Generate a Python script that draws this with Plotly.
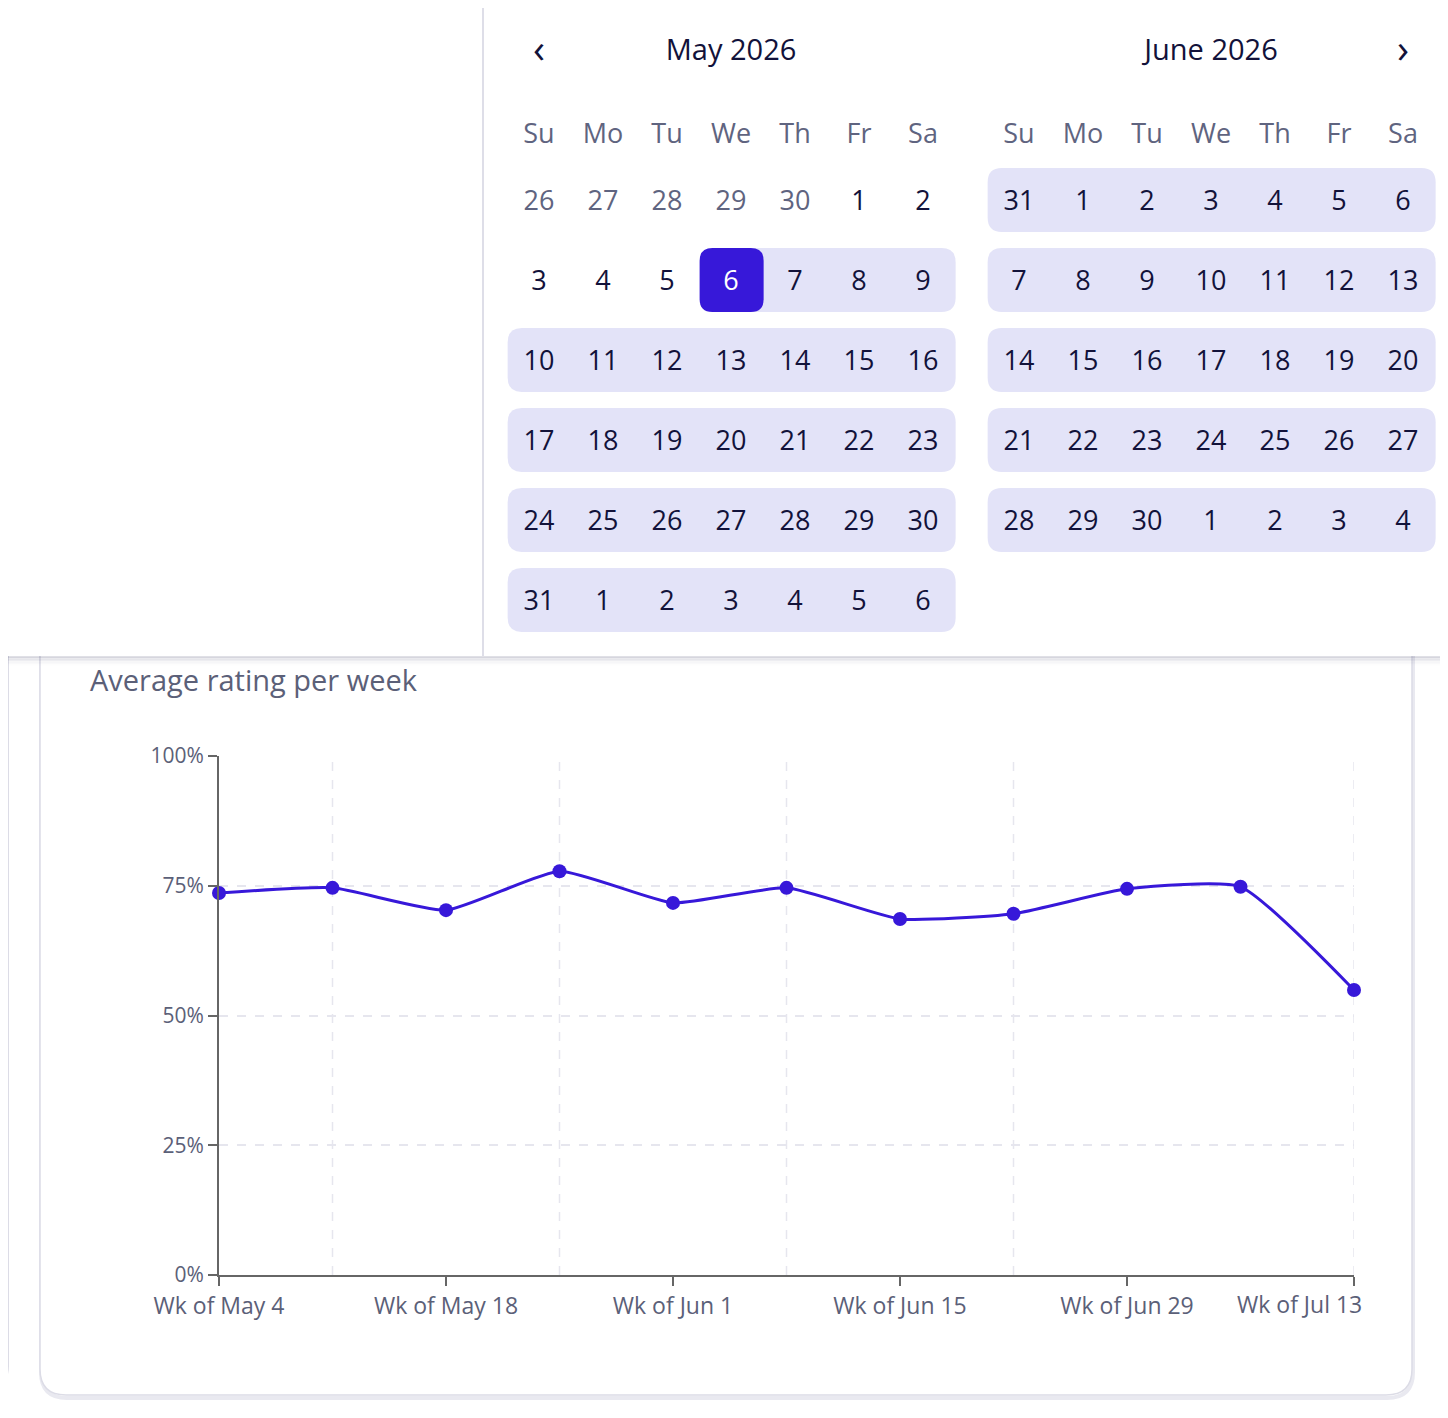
import plotly.graph_objects as go

# the page puts an 8px body margin round the figure, so the figure is
# drawn 16px smaller and every pixel position is taken from the screen
OFF = 8
W, H = 1448 - 2 * OFF, 1418 - 2 * OFF

# weekly average rating (fraction)
weeks = ['2026-05-04', '2026-05-11', '2026-05-18', '2026-05-25', '2026-06-01', '2026-06-08',
         '2026-06-15', '2026-06-22', '2026-06-29', '2026-07-06', '2026-07-13']
ratings = [0.736, 0.746, 0.703, 0.778, 0.717, 0.746, 0.686, 0.696, 0.744, 0.748, 0.549]

tick_dates = ['2026-05-04', '2026-05-18', '2026-06-01', '2026-06-15', '2026-06-29', '2026-07-13']
tick_text = ['Wk of May 4', 'Wk of May 18', 'Wk of Jun 1', 'Wk of Jun 15', 'Wk of Jun 29', 'Wk of Jul 13']
grid_dates = ['2026-05-11', '2026-05-25', '2026-06-08', '2026-06-22', '2026-07-13']
y_ticks = [0, 0.25, 0.5, 0.75, 1.0]

# calendar
weekdays = ['Su', 'Mo', 'Tu', 'We', 'Th', 'Fr', 'Sa']
month_titles = ['May 2026', 'June 2026']
may_rows = [[26, 27, 28, 29, 30, 1, 2],
            [3, 4, 5, 6, 7, 8, 9],
            [10, 11, 12, 13, 14, 15, 16],
            [17, 18, 19, 20, 21, 22, 23],
            [24, 25, 26, 27, 28, 29, 30],
            [31, 1, 2, 3, 4, 5, 6]]
june_rows = [[31, 1, 2, 3, 4, 5, 6],
             [7, 8, 9, 10, 11, 12, 13],
             [14, 15, 16, 17, 18, 19, 20],
             [21, 22, 23, 24, 25, 26, 27],
             [28, 29, 30, 1, 2, 3, 4]]
may_muted = [(0, 0), (0, 1), (0, 2), (0, 3), (0, 4)]
selected = (1, 3)  # May 6
# (month offset, row, first col, last col)
bands = [(0, 1, 3, 6), (0, 2, 0, 6), (0, 3, 0, 6), (0, 4, 0, 6), (0, 5, 0, 6),
         (7.5, 0, 0, 6), (7.5, 1, 0, 6), (7.5, 2, 0, 6), (7.5, 3, 0, 6), (7.5, 4, 0, 6)]

FONT = 'Open Sans'
ACCENT = '#3718d9'
BAND = '#e3e3f8'
DARK = '#12123a'
MUTED = '#5f6480'
TXT_DY = 0.04  # text sits a bit high in plotly, nudge down


def px(x):
    return (x - OFF) / W


def py(y):
    return 1 - (y - OFF) / H


def rounded(x0, y0, x1, y1, rx, ry):
    return (f'M {x0 + rx},{y0} L {x1 - rx},{y0} Q {x1},{y0} {x1},{y0 + ry} '
            f'L {x1},{y1 - ry} Q {x1},{y1} {x1 - rx},{y1} L {x0 + rx},{y1} '
            f'Q {x0},{y1} {x0},{y1 - ry} L {x0},{y0 + ry} Q {x0},{y0} {x0 + rx},{y0} Z')


def paper_rounded(x0, y0, x1, y1, r):
    # screen pixel box -> paper path (y flipped)
    return rounded(px(x0), py(y0), px(x1), py(y1), r / W, -r / H)


fig = go.Figure()

fig.add_trace(go.Scatter(
    x=weeks, y=ratings, mode='lines+markers',
    line=dict(color=ACCENT, width=3, shape='spline', smoothing=0.5),
    marker=dict(color=ACCENT, size=14),
    cliponaxis=False, showlegend=False, hoverinfo='skip'
))

# calendar text
cx, cy, ct, cc = [], [], [], []
for off, rows in [(0, may_rows), (7.5, june_rows)]:
    for c, d in enumerate(weekdays):
        cx.append(c + off); cy.append(-0.84 + TXT_DY); ct.append(d); cc.append(MUTED)
    for r, row in enumerate(rows):
        for c, day in enumerate(row):
            cx.append(c + off); cy.append(r + TXT_DY); ct.append(str(day))
            if off == 0 and (r, c) in may_muted:
                cc.append(MUTED)
            elif off == 0 and (r, c) == selected:
                cc.append('white')
            else:
                cc.append(DARK)

fig.add_trace(go.Scatter(
    x=cx, y=cy, text=ct, mode='text', xaxis='x2', yaxis='y2',
    textfont=dict(family=FONT, size=27, color=cc),
    showlegend=False, hoverinfo='skip', cliponaxis=False
))
fig.add_trace(go.Scatter(
    x=[3, 10.5, 0, 13.5], y=[-1.875 + TXT_DY] * 4,
    text=[month_titles[0], month_titles[1], '‹', '›'], mode='text', xaxis='x2', yaxis='y2',
    textfont=dict(family=FONT, size=[29, 29, 40, 40], color=DARK),
    showlegend=False, hoverinfo='skip', cliponaxis=False
))

shapes = []
# neighbour card on the left and the chart card
shapes.append(dict(type='path', xref='paper', yref='paper', layer='below',
                   path=paper_rounded(-60, 560, 8, 1386, 20),
                   line=dict(color='#dcdce6', width=2), fillcolor='white'))
shapes.append(dict(type='path', xref='paper', yref='paper', layer='below',
                   path=paper_rounded(41, 562, 1413, 1398, 26),
                   line=dict(color='#e9e9f0', width=4), fillcolor='rgba(0,0,0,0)'))
shapes.append(dict(type='path', xref='paper', yref='paper', layer='below',
                   path=paper_rounded(40, 560, 1412, 1395, 26),
                   line=dict(color='#dcdce6', width=1.5), fillcolor='white'))
# popup shadow
for i, a in enumerate([0.16, 0.11, 0.07, 0.045, 0.025, 0.012]):
    shapes.append(dict(type='line', xref='paper', yref='paper', layer='below',
                       x0=0, x1=1, y0=py(657 + 1.5 * i), y1=py(657 + 1.5 * i),
                       line=dict(color=f'rgba(60,60,100,{a})', width=2)))
# popup body
shapes.append(dict(type='rect', xref='paper', yref='paper', layer='below',
                   x0=0, x1=1, y0=py(656), y1=1, fillcolor='white',
                   line=dict(width=0)))
shapes.append(dict(type='line', xref='paper', yref='paper', layer='below',
                   x0=px(483), x1=px(483), y0=py(656), y1=1,
                   line=dict(color='#dedee8', width=2)))

# range bands and selected day
for off, r, c0, c1 in bands:
    shapes.append(dict(type='path', xref='x2', yref='y2', layer='below',
                       path=rounded(c0 + off - 0.49, r - 0.4, c1 + off + 0.51, r + 0.4, 0.22, 0.18),
                       fillcolor=BAND, line=dict(width=0)))
sr, sc = selected
shapes.append(dict(type='path', xref='x2', yref='y2', layer='below',
                   path=rounded(sc - 0.49, sr - 0.4, sc + 0.51, sr + 0.4, 0.2, 0.16),
                   fillcolor=ACCENT, line=dict(width=0)))

# vertical dashed grid of the chart
for d in grid_dates:
    shapes.append(dict(type='line', xref='x', yref='y', layer='below',
                       x0=d, x1=d, y0=0, y1=1,
                       line=dict(color='#e6e6ee', width=1.5, dash='dash')))

annotations = [
    dict(text='Average rating per week', x=px(88), y=py(679), xref='paper', yref='paper',
         xanchor='left', yanchor='middle', showarrow=False,
         font=dict(family=FONT, size=29, color='#5b6078')),
    dict(text=tick_text[-1], x=weeks[-1], y=0, xref='x', yref='y', xanchor='right',
         yanchor='top', xshift=10, yshift=-11, showarrow=False,
         font=dict(family=FONT, size=23, color='#5b6078')),
]

fig.update_layout(
    width=W, height=H, autosize=False,
    margin=dict(l=0, r=0, t=0, b=0, pad=0),
    paper_bgcolor='white', plot_bgcolor='rgba(0,0,0,0)',
    font=dict(family=FONT, color='#5b6078'),
    shapes=shapes, annotations=annotations,
    xaxis=dict(type='date', domain=[px(219), px(1354)], range=[weeks[0], weeks[-1]],
               tickvals=tick_dates, ticktext=tick_text[:-1] + [''],
               ticks='outside', ticklen=9, tickwidth=2, tickcolor='#666',
               showline=True, linecolor='#666', linewidth=2, showgrid=False, zeroline=False,
               tickfont=dict(size=23, color='#5b6078'), anchor='y', automargin=False),
    yaxis=dict(domain=[py(1275), py(756)], range=[0, 1], tickvals=y_ticks, tickformat='.0%',
               ticks='outside', ticklen=9, tickwidth=2, tickcolor='#666',
               showline=True, linecolor='#666', linewidth=2,
               showgrid=True, gridcolor='#e6e6ee', griddash='dash', gridwidth=1.5,
               zeroline=False, tickfont=dict(size=21, color='#5b6078'), anchor='x',
               automargin=False),
    xaxis2=dict(domain=[0, 1], range=[(OFF - 539) / 64, (OFF + W - 539) / 64], visible=False,
                fixedrange=True, anchor='y2', automargin=False),
    yaxis2=dict(domain=[py(656), 1], range=[(656 - 200) / 80, (OFF - 200) / 80], visible=False,
                fixedrange=True, anchor='x2', automargin=False),
)

fig.write_html('out.html')
